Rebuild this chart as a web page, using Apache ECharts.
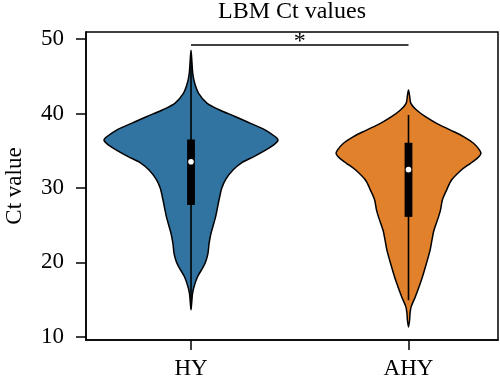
<!DOCTYPE html>
<html>
<head>
<meta charset="utf-8">
<script src="https://cdn.jsdelivr.net/npm/echarts@6/dist/echarts.min.js"></script>
<style>html,body{margin:0;padding:0;background:#fff}#c{width:500px;height:380px}</style>
</head>
<body>
<div id="c"></div>
<script>
// ---- data ----
const categories = ['HY', 'AHY'];
const colors = ['#3274A1', '#E1812C'];
const yTicks = [10, 20, 30, 40, 50];

// violin outlines: Ct value and KDE half-width (x-axis units)
const hyCt = [48.5, 47.0, 45.4, 44.05, 42.7, 41.4, 40.5, 39.6, 38.7, 37.8, 36.9, 36.4, 35.7, 35.1, 34.2, 33.4, 32.4, 31.2, 30.0, 28.4, 26.1, 23.9, 22.5, 21.2, 20.2, 19.4, 18.05, 16.7, 15.8, 14.5, 13.6];
const hyWidth = [0, 0.004, 0.008, 0.017, 0.035, 0.073, 0.129, 0.202, 0.271, 0.340, 0.386, 0.400, 0.377, 0.345, 0.289, 0.234, 0.193, 0.161, 0.142, 0.129, 0.113, 0.092, 0.083, 0.078, 0.069, 0.057, 0.030, 0.014, 0.007, 0.003, 0];
const ahyCt = [43.15, 42.4, 41.36, 40.46, 39.56, 38.67, 37.77, 36.9, 36.0, 35.1, 34.6, 34.0, 33.3, 32.4, 31.05, 29.7, 28.4, 27.0, 26.1, 24.3, 23.0, 21.6, 19.4, 17.4, 15.4, 14.0, 13.1, 12.2, 11.3];
const ahyWidth = [0, 0.005, 0.011, 0.037, 0.078, 0.129, 0.193, 0.253, 0.299, 0.326, 0.333, 0.317, 0.285, 0.243, 0.198, 0.175, 0.156, 0.147, 0.138, 0.117, 0.108, 0.099, 0.078, 0.057, 0.032, 0.012, 0.007, 0.005, 0];

// inner box plot stats
const whiskerLow = [14.0, 14.9];
const whiskerHigh = [47.5, 39.8];
const q1 = [27.7, 26.1];
const q3 = [36.5, 36.06];
const medians = [33.5, 32.45];

// significance annotation
const sigFrom = 0, sigTo = 1, sigY = 49.2, sigLabel = '*';

// ---- chart ----
const profiles = [[hyCt, hyWidth], [ahyCt, ahyWidth]];
const FONT = '"Liberation Serif", "DejaVu Serif", serif';

const chart = echarts.init(document.getElementById('c'), null, {renderer: 'canvas'});

function renderViolin(params, api) {
  const i = params.dataIndex;
  const [cts, ws] = profiles[i];
  const right = cts.map((v, k) => api.coord([i + ws[k], v]));
  const left = cts.map((v, k) => api.coord([i - ws[k], v])).reverse();
  const pts = right.concat(left.slice(1, left.length - 1));
  const children = [{
    type: 'polygon',
    shape: {points: pts, smooth: 0.3},
    style: {fill: colors[i], stroke: '#000', lineWidth: 1.5}
  }];
  const cx = api.coord([i, 0])[0];
  const wl = api.coord([i, whiskerLow[i]])[1];
  const wh = api.coord([i, whiskerHigh[i]])[1];
  children.push({
    type: 'line',
    shape: {x1: cx, y1: wh, x2: cx, y2: wl},
    style: {stroke: '#000', lineWidth: 1.6}
  });
  const bt = api.coord([i, q3[i]])[1];
  const bb = api.coord([i, q1[i]])[1];
  children.push({
    type: 'rect',
    shape: {x: cx - 3.9, y: bt, width: 7.8, height: bb - bt},
    style: {fill: '#000'}
  });
  const my = api.coord([i, medians[i]])[1];
  children.push({
    type: 'circle',
    shape: {cx: cx, cy: my, r: 2.8},
    style: {fill: '#fff'}
  });
  return {type: 'group', children: children};
}

function renderSig(params, api) {
  const a = api.coord([sigFrom, sigY]);
  const b = api.coord([sigTo, sigY]);
  return {
    type: 'group',
    children: [
      {type: 'line', shape: {x1: a[0], y1: a[1], x2: b[0], y2: b[1]}, style: {stroke: '#000', lineWidth: 1.5}},
      {type: 'text', x: (a[0] + b[0]) / 2, y: a[1] - 15,
       style: {text: sigLabel, font: '24px ' + FONT, fill: '#000', align: 'center', verticalAlign: 'top'}}
    ]
  };
}

const axisLineStyle = {color: '#000', width: 1.5};

const option = {
  animation: false,
  backgroundColor: '#fff',
  title: {
    text: 'LBM Ct values',
    left: 292, textAlign: 'center', top: 0, padding: 0,
    textStyle: {fontFamily: FONT, fontSize: 24, fontWeight: 'normal', color: '#000'}
  },
  grid: {
    left: 86, right: 2, top: 32, bottom: 40,
    outerBoundsMode: 'none', containLabel: false,
    show: true, borderColor: '#000', borderWidth: 1.5, backgroundColor: 'transparent'
  },
  xAxis: {
    type: 'value', min: -0.4828, max: 1.4115,
    axisLine: {show: true, onZero: false, lineStyle: axisLineStyle},
    splitLine: {show: false},
    axisTick: {show: true, inside: false, length: 10, lineStyle: axisLineStyle, customValues: [0, 1]},
    axisLabel: {
      customValues: [0, 1], margin: 17,
      formatter: v => categories[Math.round(v)] || '',
      fontFamily: FONT, fontSize: 23, color: '#000'
    }
  },
  yAxis: {
    type: 'value', min: 9.55, max: 50.95,
    name: 'Ct value', nameLocation: 'middle', nameGap: 60, nameRotate: 90,
    nameTextStyle: {fontFamily: FONT, fontSize: 23, color: '#000'},
    axisLine: {show: true, onZero: false, lineStyle: axisLineStyle},
    splitLine: {show: false},
    axisTick: {show: true, inside: false, length: 10, lineStyle: axisLineStyle, customValues: yTicks},
    axisLabel: {
      customValues: yTicks, margin: 22,
      fontFamily: FONT, fontSize: 23, color: '#000'
    }
  },
  series: [
    {
      type: 'custom', name: 'violins',
      renderItem: renderViolin,
      data: categories.map((c, i) => [i, medians[i]]),
      encode: {x: 0, y: 1},
      clip: false, z: 2
    },
    {
      type: 'custom', name: 'significance',
      renderItem: renderSig,
      data: [[(sigFrom + sigTo) / 2, sigY]],
      encode: {x: 0, y: 1},
      clip: false, z: 3
    }
  ]
};
chart.setOption(option);
</script>
</body>
</html>
